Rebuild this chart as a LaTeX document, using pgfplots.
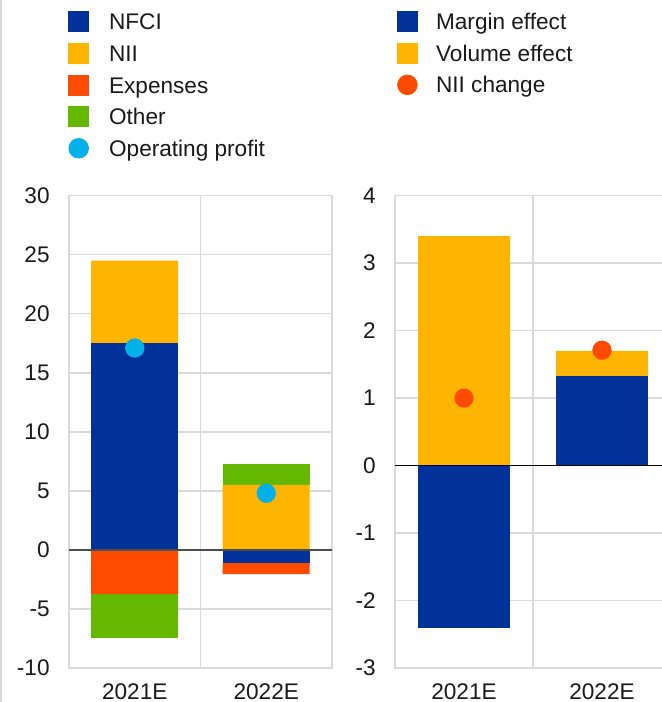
\documentclass[border=0pt]{standalone}
\usepackage{fontspec}
\setmainfont{Liberation Sans}
\usepackage{pgfplots}
\usepackage{pgfplotstable}
\pgfplotsset{compat=1.18}
\definecolor{nfci}{HTML}{003299}
\definecolor{nii}{HTML}{FFB400}
\definecolor{expc}{HTML}{FF4B00}
\definecolor{oth}{HTML}{65B800}
\definecolor{opc}{HTML}{00B1EA}
\definecolor{gridc}{HTML}{DADADA}
\newcommand{\fnt}{\fontsize{11.3pt}{13.5pt}\selectfont}

% Left panel: contributions (positive and negative parts)
\pgfplotstableread{
x nfci nii oth
0 17.5 7.0 0
1 0 5.5 1.75
}\leftpos
\pgfplotstableread{
x nfci exp oth
0 0 -3.75 -3.7
1 -1.1 -0.95 0
}\leftneg
\pgfplotstableread{
x op
0 17.1
1 4.8
}\leftop
% Right panel
\pgfplotstableread{
x margin volume
0 0 3.4
1 1.33 0.37
}\rightpos
\pgfplotstableread{
x margin
0 -2.4
1 0
}\rightneg
\pgfplotstableread{
x nii
0 1.0
1 1.71
}\rightdot

\pgfplotsset{
  panel/.style={scale only axis, height=236.15pt, anchor=south west,
    xmin=-0.5, xmax=1.5, enlargelimits=false},
  leftpanel/.style={panel, width=131.5pt, at={(34.5pt,17pt)}, ymin=-10, ymax=30},
  rightpanel/.style={panel, width=138pt, at={(197.5pt,17pt)}, ymin=-3, ymax=4},
  frame/.style={
    xtick={0,1}, xticklabels={2021E,2022E}, minor xtick={0.5},
    ymajorgrids, xminorgrids,
    major grid style={gridc, line width=0.7pt},
    minor grid style={gridc, line width=0.7pt},
    axis line style={gridc, line width=0.7pt},
    major tick style={draw=none}, minor tick style={draw=none},
    tick label style={font=\fnt, text=black!90},
    yticklabel style={inner sep=0pt, anchor=east, xshift=-9.5pt},
    xticklabel style={inner sep=0pt, anchor=north, yshift=-7.7pt}},
  leg/.style={legend cell align=left,
    legend style={draw=none, fill=none, inner sep=0pt, outer sep=0pt,
      anchor=north west, row sep=4.1pt, column sep=0pt,
      nodes={inner sep=0pt, text height=9pt, text depth=2.5pt, font=\fnt, text=black!90},
      /tikz/every odd column/.style={column sep=#1}}},
  sq/.style={legend image code/.code={\fill[#1] (0pt,-4.2pt) rectangle (10pt,5.8pt);}},
  dot/.style={legend image code/.code={\fill[#1] (5pt,0.8pt) circle (4.9pt);}},
}

\begin{document}
\begin{tikzpicture}
\useasboundingbox (0,0) rectangle (331pt,351pt);
\draw[gridc, line width=0.8pt] (0.4pt,0) -- (0.4pt,351pt);

% ---------- Left panel ----------
\begin{axis}[leftpanel, frame,
  ytick={-10,-5,0,5,10,15,20,25,30},
  yticklabels={-10,-5,0,5,10,15,20,25,30},
  ybar stacked, bar width=43.5pt]
\addplot[fill=nfci, draw=none] table[x=x,y=nfci]{\leftpos};
\addplot[fill=nii, draw=none] table[x=x,y=nii]{\leftpos};
\addplot[fill=oth, draw=none] table[x=x,y=oth]{\leftpos};
\end{axis}
\begin{axis}[leftpanel, hide axis, ybar stacked, bar width=43.5pt]
\addplot[fill=nfci, draw=none] table[x=x,y=nfci]{\leftneg};
\addplot[fill=expc, draw=none] table[x=x,y=exp]{\leftneg};
\addplot[fill=oth, draw=none] table[x=x,y=oth]{\leftneg};
\end{axis}
\begin{axis}[leftpanel, hide axis, leg=10pt,
  legend style={at={(-0.00266,1.3905)}}]
\draw[black!70, line width=0.75pt] (axis cs:-0.5,0) -- (axis cs:1.5,0);
\addplot[only marks, mark=*, mark size=4.6pt, color=opc, forget plot] table[x=x,y=op]{\leftop};
\addlegendimage{sq=nfci}\addlegendentry{NFCI}
\addlegendimage{sq=nii}\addlegendentry{NII}
\addlegendimage{sq=expc}\addlegendentry{Expenses}
\addlegendimage{sq=oth}\addlegendentry{Other}
\addlegendimage{dot=opc}\addlegendentry{Operating profit}
\end{axis}

% ---------- Right panel ----------
\begin{axis}[rightpanel, frame,
  ytick={-3,-2,-1,0,1,2,3,4},
  yticklabels={-3,-2,-1,0,1,2,3,4},
  ybar stacked, bar width=46pt]
\addplot[fill=nfci, draw=none] table[x=x,y=margin]{\rightpos};
\addplot[fill=nii, draw=none] table[x=x,y=volume]{\rightpos};
\end{axis}
\begin{axis}[rightpanel, hide axis, ybar stacked, bar width=46pt]
\addplot[fill=nfci, draw=none] table[x=x,y=margin]{\rightneg};
\end{axis}
\begin{axis}[rightpanel, hide axis, leg=9.15pt,
  legend style={at={(0.00725,1.3905)}}]
\draw[black, line width=0.75pt] (axis cs:-0.5,0) -- (axis cs:1.5,0);
\addplot[only marks, mark=*, mark size=4.6pt, color=expc, forget plot] table[x=x,y=nii]{\rightdot};
\addlegendimage{sq=nfci}\addlegendentry{Margin effect}
\addlegendimage{sq=nii}\addlegendentry{Volume effect}
\addlegendimage{dot=expc}\addlegendentry{NII change}
\end{axis}
\end{tikzpicture}
\end{document}
